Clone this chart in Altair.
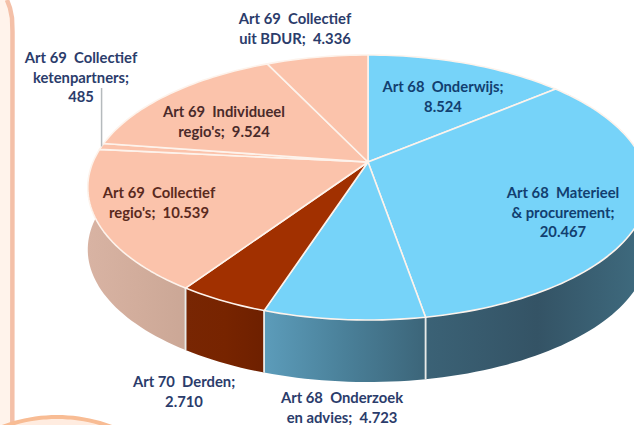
import math
import altair as alt
import pandas as pd

# Budget items, clockwise from twelve o'clock
categories = [
    "Art 68 Onderwijs", "Art 68 Materieel & procurement", "Art 68 Onderzoek en advies",
    "Art 70 Derden", "Art 69 Collectief regio's", "Art 69 Collectief ketenpartners",
    "Art 69 Individueel regio's", "Art 69 Collectief uit BDUR",
]
amounts = [8524, 20467, 4723, 2710, 10539, 485, 9524, 4336]
tops = ["#76D3F9", "#76D3F9", "#76D3F9", "#A13000", "#FBC3AB", "#FBC3AB", "#FBC3AB", "#FBC3AB"]

W, H = 634, 425
# Perspective tilt of the disc on the canvas
CX, CY, RX, RY, TILT, DEPTH = 368.0, 162.0, 275.0, 127.6, 0.1925, 62.0

# Side wall shading, left to right, for the slices that face the viewer
walls = {
    1: ["#3B6276", "#345365", "#3F6C80"],
    2: ["#5C9CBA", "#4A8099", "#3C6579"],
    3: ["#782603", "#772400", "#6E2000"],
    4: ["#D8B3A3", "#D2AD9C", "#CBA796"],
}

# Slice labels: line texts, centre x, first line y, text colour
NAVY, BLUE = "#2B3C6B", "#123F70"
labels = [
    (["Art 68\u00a0\u00a0Onderwijs;", "8.524"], 443, 88, BLUE),
    (["Art 68\u00a0\u00a0Materieel", "& procurement;", "20.467"], 563, 194, BLUE),
    (["Art 68\u00a0\u00a0Onderzoek", "en advies;\u00a0\u00a04.723"], 342, 399, NAVY),
    (["Art 70\u00a0\u00a0Derden;", "2.710"], 184, 383, NAVY),
    (["Art 69\u00a0\u00a0Collectief", "regio's;\u00a0\u00a010.539"], 159, 194, "#5A2A1E"),
    (["Art 69\u00a0\u00a0Collectief", "ketenpartners;", "485"], 81, 59, NAVY),
    (["Art 69\u00a0\u00a0Individueel", "regio's;\u00a0\u00a09.524"], 224, 113, "#4A2A2A"),
    (["Art 69\u00a0\u00a0Collectief", "uit BDUR;\u00a0\u00a04.336"], 295, 20, NAVY),
]
LINE_STEP = 19.7


def rim(theta_deg):
    t = math.radians(theta_deg)
    sx, cy = math.sin(t), math.cos(t)
    d = 1 + TILT * cy
    return CX + RX * sx / d, CY - RY * cy / d


def arc_points(a0, a1):
    n = max(2, int(abs(a1 - a0) / 1.5) + 1)
    return [rim(a0 + (a1 - a0) * i / n) for i in range(n + 1)]


xs = alt.Scale(domain=[0, W], range=[0, W])
ys = alt.Scale(domain=[0, H], range=[0, H])


def shape(points, **mark):
    df = pd.DataFrame({"x": [p[0] for p in points], "y": [p[1] for p in points], "i": range(len(points))})
    return (
        alt.Chart(df)
        .mark_line(clip=True, interpolate="linear", **mark)
        .encode(
            x=alt.X("x:Q", scale=xs, axis=None),
            y=alt.Y("y:Q", scale=ys, axis=None),
            order="i:Q",
        )
    )


total = sum(amounts)
edges = [0.0]
for v in amounts:
    edges.append(edges[-1] + v / total * 360.0)

layers = []

# Page furniture: tinted margin with rounded rule, and the bubble below it
margin = [(0, 0), (7, 0), (10, 8), (12, 18), (12.5, 32), (12.3, H), (0, H), (0, 0)]
layers.append(shape(margin, fill="#FFF3EB", stroke="#F6C4AE", strokeWidth=0))
layers.append(shape(margin[1:6], stroke="#F4C0A8", strokeWidth=4.5))
bubble = [(57 + 155 * math.sin(math.radians(a)), 417 + 155 - 155 * math.cos(math.radians(a))) for a in range(-24, 25, 2)]
layers.append(shape(bubble + [bubble[0]], fill="#FFECE0", stroke="#F5B48A", strokeWidth=0))
layers.append(shape(bubble, stroke="#F8BC94", strokeWidth=4))

# Side walls
seams = []
for i, stops in walls.items():
    upper = arc_points(edges[i], edges[i + 1])
    lower = [(x, y + DEPTH) for x, y in reversed(upper)]
    outline = upper + lower + [upper[0]]
    gradient = alt.Gradient(
        gradient="linear", x1=0, x2=1, y1=0, y2=0,
        stops=[alt.GradientStop(color=c, offset=k / (len(stops) - 1)) for k, c in enumerate(stops)],
    )
    layers.append(shape(outline, fill=gradient, stroke="#FFFFFF", strokeWidth=0))
    seams.extend([upper[0], upper[-1]])

# Pale seams between neighbouring walls
for x, y in seams:
    layers.append(shape([(x, y), (x, y + DEPTH)], stroke="#E8EAE8", strokeWidth=1.5))

# Top faces
for i, colour in enumerate(tops):
    outline = [(CX, CY)] + arc_points(edges[i], edges[i + 1]) + [(CX, CY)]
    layers.append(shape(outline, fill=colour, stroke="#FDF3EC", strokeWidth=1.6, strokeJoin="round"))

# Leader line of the thin slice
anchor = rim(edges[5] + (edges[6] - edges[5]) / 2)
layers.append(shape([(anchor[0], 88), anchor], stroke="#B5BABD", strokeWidth=1.5))

# Labels
rows = []
for lines, cx, y0, colour in labels:
    for k, line in enumerate(lines):
        rows.append({"x": cx, "y": y0 + k * LINE_STEP, "t": line, "c": colour})
layers.append(
    alt.Chart(pd.DataFrame(rows))
    .mark_text(font="Lato", fontWeight="bold", fontSize=14.8, align="center", baseline="middle")
    .encode(
        x=alt.X("x:Q", scale=xs, axis=None),
        y=alt.Y("y:Q", scale=ys, axis=None),
        text="t:N",
        color=alt.Color("c:N", scale=None, legend=None),
    )
)

chart = (
    alt.layer(*layers)
    .properties(width=W, height=H, padding=0, background="#FFFFFF", autosize=alt.AutoSizeParams(type="none"))
    .configure_view(stroke=None)
)
chart.save("out.html", embed_options={"renderer": "svg", "actions": False})
